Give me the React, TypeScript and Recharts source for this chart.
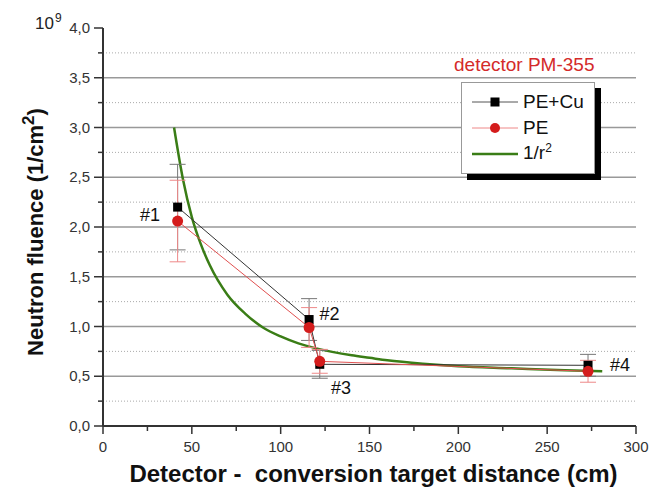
import React from 'react';
import {
  LineChart, Line, XAxis, YAxis, CartesianGrid, ErrorBar, ReferenceDot, Label,
} from 'recharts';

// ---- data ----
const distances = [42, 116, 122, 273];
const peCuValues = [2.2, 1.07, 0.62, 0.61];
const peCuErrors = [0.43, 0.21, 0.14, 0.11];
const peValues = [2.06, 0.99, 0.65, 0.55];
const peErrors = [0.41, 0.2, 0.12, 0.11];

const invR2X = [40, 45, 50, 55, 60, 70, 80, 90, 100, 110, 120, 140, 150, 160, 180, 200, 230, 260, 281];
const invR2Y = [3.0, 2.48, 2.1, 1.83, 1.62, 1.32, 1.13, 0.99, 0.9, 0.83, 0.78, 0.71, 0.685, 0.66, 0.625, 0.6, 0.58, 0.56, 0.55];

const xTicks = [0, 25, 50, 75, 100, 125, 150, 175, 200, 225, 250, 275, 300];
const yTicks = [0, 0.25, 0.5, 0.75, 1, 1.25, 1.5, 1.75, 2, 2.25, 2.5, 2.75, 3, 3.25, 3.5, 3.75, 4];
const yMajorGrid = [0.5, 1, 1.5, 2, 2.5, 3, 3.5];
const yMinorGrid = [0.25, 0.75, 1.25, 1.75, 2.25, 2.75, 3.25, 3.75];

const annotations = [
  { label: '#1', x: 26.5, y: 2.12 },
  { label: '#2', x: 127.5, y: 1.13 },
  { label: '#3', x: 134, y: 0.38 },
  { label: '#4', x: 291, y: 0.61 },
];

const peCuData = distances.map((x, i) => ({ x, y: peCuValues[i], err: peCuErrors[i] }));
const peData = distances.map((x, i) => ({ x, y: peValues[i], err: peErrors[i] }));
const invR2Data = invR2X.map((x, i) => ({ x, y: invR2Y[i] }));

const FONT = '"Liberation Sans", Arial, Helvetica, sans-serif';
const AXIS = '#333';

const fmtY = (v: number) => v.toFixed(1).replace('.', ',');
const isMajorX = (v: number) => v % 50 === 0;
const isMajorY = (v: number) => Math.abs(v * 2 - Math.round(v * 2)) < 1e-6;

const BottomTick = (p: any) => {
  const v = p.payload.value;
  const major = isMajorX(v);
  return (
    <g>
      <line x1={p.x} x2={p.x} y1={p.y} y2={p.y + (major ? 8 : 5)} stroke={AXIS} strokeWidth={1.5} />
      {major && (
        <text x={p.x} y={p.y + 26} textAnchor="middle" fontSize={15} fill="#333" fontFamily={FONT}>
          {v}
        </text>
      )}
    </g>
  );
};

const TopTick = (p: any) => (
  <line x1={p.x} x2={p.x} y1={p.y} y2={p.y + 6} stroke={AXIS} strokeWidth={1.5} />
);

const LeftTick = (p: any) => {
  const v = p.payload.value;
  const major = isMajorY(v);
  return (
    <g>
      <line x1={p.x - (major ? 9 : 5)} x2={p.x} y1={p.y} y2={p.y} stroke={AXIS} strokeWidth={1.5} />
      {major && (
        <text x={p.x - 13} y={p.y + 5} textAnchor="end" fontSize={15} fill="#333" fontFamily={FONT}>
          {fmtY(v)}
        </text>
      )}
    </g>
  );
};

const RightTick = (p: any) => (
  <line x1={p.x - 6} x2={p.x} y1={p.y} y2={p.y} stroke={AXIS} strokeWidth={1.5} />
);

const SquareDot = (p: any) => (
  <rect key={`sq-${p.index}`} x={p.cx - 4.5} y={p.cy - 4.5} width={9} height={9} fill="#000" />
);

const XTitle = (p: any) => {
  const vb = p.viewBox;
  return (
    <text x={vb.x + vb.width / 2 + 4} y={vb.y + 56} textAnchor="middle" fontSize={24} fontWeight="bold" fill="#111" fontFamily={FONT} style={{ whiteSpace: 'pre' }}>
      {'Detector -\u00a0 conversion target distance (cm)'}
    </text>
  );
};

const YTitle = () => {
  const cx = 43;
  const cy = 232;
  return (
    <text x={cx} y={cy} transform={`rotate(-90, ${cx}, ${cy})`} textAnchor="middle" fontSize={22} fontWeight="bold" fill="#111" fontFamily={FONT}>
      <tspan>Neutron fluence (1/cm</tspan>
      <tspan dy={-9} fontSize={17}>2</tspan>
      <tspan dy={9}>)</tspan>
    </text>
  );
};

const AnnLabel = (text: string) => (p: any) => {
  const vb = p.viewBox;
  return (
    <text x={vb.x} y={vb.y + 6} textAnchor="middle" fontSize={18} fill="#111" fontFamily={FONT}>
      {text}
    </text>
  );
};

const LegendRow = ({ kind, label }: { kind: string; label: React.ReactNode }) => (
  <div style={{ display: 'flex', alignItems: 'center', height: 26 }}>
    <svg width={46} height={14} style={{ marginRight: 5 }}>
      {kind === 'sq' && (
        <g>
          <line x1={0} x2={46} y1={7} y2={7} stroke="#555" strokeWidth={1} />
          <rect x={18.5} y={2.5} width={9} height={9} fill="#000" />
        </g>
      )}
      {kind === 'ci' && (
        <g>
          <line x1={0} x2={46} y1={7} y2={7} stroke="#e88" strokeWidth={1} />
          <circle cx={23} cy={7} r={5} fill="#d41c1c" />
        </g>
      )}
      {kind === 'ln' && <line x1={0} x2={46} y1={7} y2={7} stroke="#3a7d16" strokeWidth={2.5} />}
    </svg>
    <span style={{ fontSize: 19, color: '#111', fontFamily: FONT, lineHeight: '20px' }}>{label}</span>
  </div>
);

export default function App() {
  return (
    <div style={{ position: 'absolute', left: 0, top: 0, width: 651, height: 491, background: '#fff', fontFamily: FONT }}>
      <LineChart width={651} height={491} margin={{ top: 28, right: 15, left: 0, bottom: 0 }}>
        <CartesianGrid horizontal vertical={false} horizontalValues={yMinorGrid} stroke="#aaa" strokeDasharray="1 2" strokeWidth={1} />
        <CartesianGrid horizontal vertical={false} horizontalValues={yMajorGrid} stroke="#999" strokeWidth={1.5} />
        <XAxis
          dataKey="x"
          type="number"
          domain={[0, 300]}
          ticks={xTicks}
          interval={0}
          height={65}
          tickSize={0}
          tickMargin={0}
          tickLine={false}
          axisLine={{ stroke: AXIS, strokeWidth: 2 }}
          tick={<BottomTick />}
          allowDataOverflow
        >
          <Label content={<XTitle />} />
        </XAxis>
        <XAxis
          xAxisId="top"
          orientation="top"
          dataKey="x"
          type="number"
          domain={[0, 300]}
          ticks={xTicks}
          interval={0}
          height={0}
          tickSize={0}
          tickMargin={0}
          tickLine={false}
          axisLine={{ stroke: AXIS, strokeWidth: 2 }}
          tick={<TopTick />}
        />
        <YAxis
          type="number"
          domain={[0, 4]}
          ticks={yTicks}
          interval={0}
          width={103}
          tickSize={0}
          tickMargin={0}
          tickLine={false}
          axisLine={{ stroke: AXIS, strokeWidth: 2 }}
          tick={<LeftTick />}
        >
          <Label content={<YTitle />} />
        </YAxis>
        <YAxis
          yAxisId="right"
          orientation="right"
          type="number"
          domain={[0, 4]}
          ticks={yTicks}
          interval={0}
          width={0}
          tickSize={0}
          tickMargin={0}
          tickLine={false}
          axisLine={{ stroke: AXIS, strokeWidth: 2 }}
          tick={<RightTick />}
        />
        <Line
          data={invR2Data}
          dataKey="y"
          stroke="#3a7d16"
          strokeWidth={2.5}
          dot={false}
          type="monotone"
          isAnimationActive={false}
        />
        <Line
          data={peCuData}
          dataKey="y"
          stroke="#333"
          strokeWidth={1}
          dot={<SquareDot />}
          isAnimationActive={false}
        >
          <ErrorBar dataKey="err" direction="y" width={8} stroke="#777" strokeWidth={1} />
        </Line>
        <Line
          data={peData}
          dataKey="y"
          stroke="#e05050"
          strokeWidth={1}
          dot={{ r: 5.5, fill: '#d41c1c', stroke: '#d41c1c', strokeWidth: 0 }}
          isAnimationActive={false}
        >
          <ErrorBar dataKey="err" direction="y" width={8} stroke="#ee8888" strokeWidth={1} />
        </Line>
        {annotations.map((a) => (
          <ReferenceDot key={a.label} x={a.x} y={a.y} r={0} stroke="none" fill="none" label={AnnLabel(a.label)} />
        ))}
      </LineChart>

      <div style={{ position: 'absolute', left: 35, top: 14, fontSize: 17, lineHeight: '20px', color: '#222', fontFamily: FONT, whiteSpace: 'nowrap' }}>
        10<span style={{ fontSize: 12, position: 'relative', top: -7, marginLeft: 1 }}>9</span>
      </div>

      <div style={{ position: 'absolute', left: 454, top: 54, fontSize: 19, lineHeight: '22px', color: '#d42a2a', fontFamily: FONT, whiteSpace: 'nowrap' }}>
        detector PM-355
      </div>

      <div
        style={{
          position: 'absolute',
          left: 461,
          top: 82,
          width: 134,
          height: 92,
          boxSizing: 'border-box',
          border: '1px solid #999',
          background: '#fff',
          boxShadow: '6px 6px 0 #000',
          padding: '6px 0 0 10px',
        }}
      >
        <LegendRow kind="sq" label="PE+Cu" />
        <LegendRow kind="ci" label="PE" />
        <LegendRow
          kind="ln"
          label={
            <span>
              1/r<span style={{ fontSize: 12, position: 'relative', top: -7 }}>2</span>
            </span>
          }
        />
      </div>
    </div>
  );
}
